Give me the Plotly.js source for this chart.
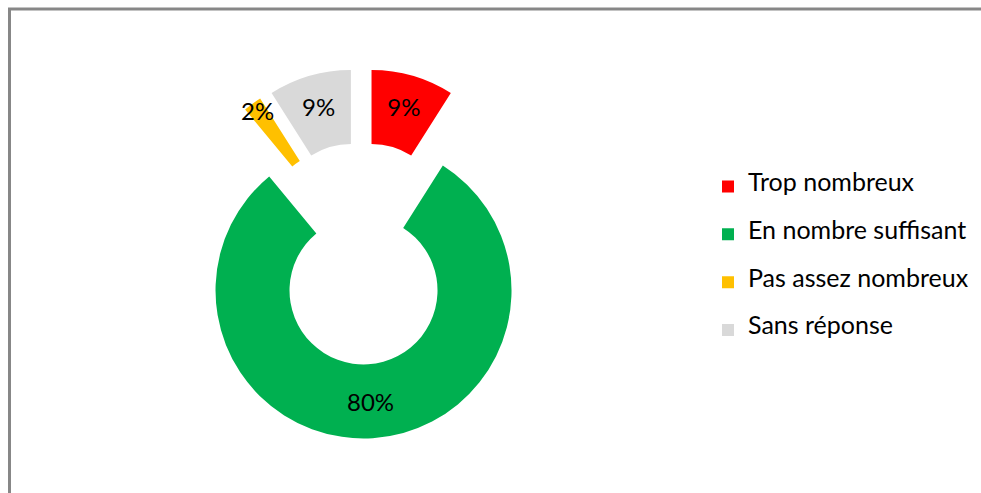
<!DOCTYPE html>
<html>
<head>
<meta charset="utf-8">
<script src="https://cdn.plot.ly/plotly-3.0.1.min.js"></script>
<style>
  html, body { margin: 0; padding: 0; background: #ffffff; }
  #chart { width: 981px; height: 493px; }
</style>
</head>
<body>
<div id="chart"></div>
<script>
// ---- data ----
const categories = ["Trop nombreux", "En nombre suffisant", "Pas assez nombreux", "Sans réponse"];
const shares = [9, 80, 2, 9];
const sliceColors = ["#FF0000", "#00B050", "#FFC000", "#D9D9D9"];

// legend labels: centred on a 3-line box so the entries are spaced like the original
const legendLabels = categories.map(c => "\u00A0<br><span style=\"font-size:25px\">" + c + "</span><br>\u00A0");

const trace = {
  type: "pie",
  labels: legendLabels,
  values: shares,
  marker: { colors: sliceColors, line: { width: 0 } },
  hole: 0.5,
  pull: 0.25,
  sort: false,
  direction: "clockwise",
  rotation: 0,
  textinfo: "percent",
  textposition: "inside",
  insidetextorientation: "horizontal",
  textfont: { family: "Lato, 'Open Sans', sans-serif", size: 24, color: "#000000" },
  hoverinfo: "skip",
  domain: { x: [176.2 / 981, 546.2 / 981], y: [1 - 438.5 / 493, 1 - 68.5 / 493] },
  automargin: false
};

const layout = {
  width: 981,
  height: 493,
  margin: { l: 0, r: 0, t: 0, b: 0 },
  paper_bgcolor: "#ffffff",
  font: { family: "Lato, 'Open Sans', sans-serif", color: "#000000" },
  showlegend: true,
  uniformtext: { mode: "show", minsize: 24 },
  legend: {
    x: 708 / 981,
    xanchor: "left",
    y: 1 - 157.5 / 493,
    yanchor: "top",
    font: { family: "Lato, 'Open Sans', sans-serif", size: 11.5, color: "#000000" },
    bgcolor: "rgba(0,0,0,0)",
    borderwidth: 0,
    valign: "middle"
  },
  shapes: [{
    type: "rect",
    xref: "paper", yref: "paper",
    x0: 9.5 / 981, x1: 1.05,
    y0: -0.05, y1: 1 - 9 / 493,
    line: { color: "#878787", width: 3 },
    fillcolor: "rgba(0,0,0,0)",
    layer: "above"
  }]
};

Plotly.newPlot("chart", [trace], layout, { displayModeBar: false, staticPlot: true });
</script>
</body>
</html>
